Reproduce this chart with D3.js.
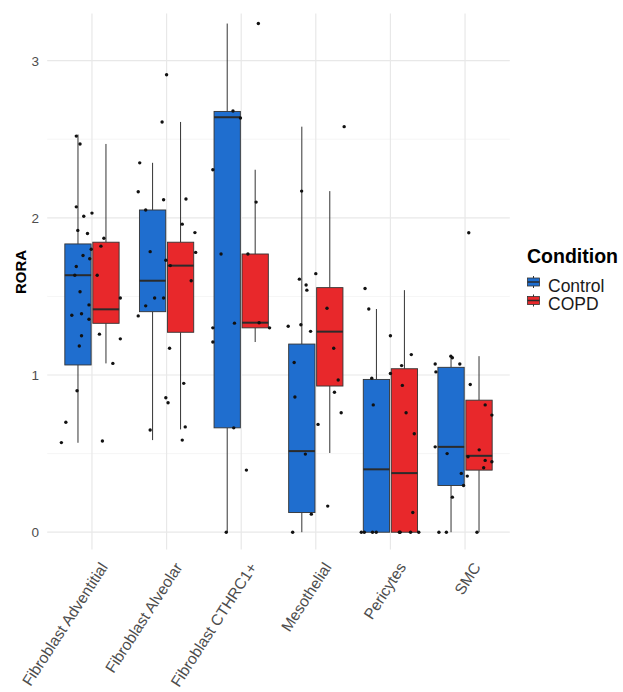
<!DOCTYPE html>
<html>
<head>
<meta charset="utf-8">
<script src="https://cdn.jsdelivr.net/npm/d3@7/dist/d3.min.js"></script>
<style>
  html, body { margin: 0; padding: 0; background: #ffffff; }
  svg { display: block; font-family: "Liberation Sans", Arial, Helvetica, sans-serif; }
</style>
</head>
<body>
<svg id="chart" width="623" height="692"></svg>
<script>
// Cell types on the x axis and the two conditions
const categories = ["Fibroblast Adventitial", "Fibroblast Alveolar", "Fibroblast CTHRC1+", "Mesothelial", "Pericytes", "SMC"];
const conditions = ["Control", "COPD"];
const conditionColors = ["#1f6ecf", "#e8282b"];

// Box summaries per cell type: [lower whisker, Q1, median, Q3, upper whisker]
const controlBoxes = [
  [0.569, 1.064, 1.635, 1.834, 2.53],
  [0.586, 1.403, 1.600, 2.050, 2.35],
  [0.000, 0.664, 2.640, 2.677, 3.236],
  [0.000, 0.125, 0.516, 1.197, 2.58],
  [0.000, 0.000, 0.400, 0.972, 1.42],
  [0.000, 0.297, 0.543, 1.049, 1.12]
];
const copdBoxes = [
  [1.074, 1.329, 1.418, 1.845, 2.47],
  [0.654, 1.272, 1.696, 1.845, 2.61],
  [1.210, 1.300, 1.333, 1.770, 2.306],
  [0.504, 0.930, 1.276, 1.556, 2.17],
  [0.000, 0.000, 0.376, 1.040, 1.54],
  [0.000, 0.395, 0.486, 0.840, 1.12]
];

// Individual cells: [horizontal jitter (fraction of category step), RORA]
const pointsAdventitial = [
  [-0.21, 2.52], [-0.16, 2.47], [-0.21, 2.07], [-0.11, 2.01], [0.00, 2.03], [-0.19, 1.92],
  [-0.06, 1.90], [0.16, 1.87], [0.12, 1.82], [-0.01, 1.80], [-0.12, 1.76], [-0.03, 1.74],
  [-0.21, 1.69], [-0.23, 1.635], [0.07, 1.635], [-0.16, 1.53], [-0.04, 1.446], [-0.27, 1.38],
  [-0.14, 1.39], [-0.04, 1.355], [0.38, 1.49], [0.10, 1.26], [0.38, 1.23], [-0.14, 1.25],
  [-0.17, 1.185], [0.28, 1.074], [-0.20, 0.90], [-0.35, 0.70], [-0.41, 0.57], [0.14, 0.58]
];
const pointsAlveolar = [
  [0.00, 2.91], [-0.06, 2.61], [-0.36, 2.35], [-0.38, 2.166], [-0.04, 2.115], [0.26, 2.12],
  [-0.28, 2.05], [0.21, 1.96], [0.38, 1.906], [-0.22, 1.785], [-0.01, 1.73], [0.39, 1.78],
  [0.05, 1.696], [0.33, 1.60], [-0.16, 1.49], [-0.04, 1.49], [-0.28, 1.44], [-0.38, 1.376],
  [0.04, 1.17], [0.23, 0.947], [-0.01, 0.855], [0.02, 0.824], [-0.22, 0.65], [0.25, 0.67],
  [0.21, 0.586]
];
const pointsCTHRC1 = [
  [0.23, 3.236], [-0.11, 2.68], [-0.01, 2.635], [-0.38, 2.306], [0.20, 2.10], [-0.27, 1.77],
  [0.09, 1.77], [-0.38, 1.30], [-0.38, 1.21], [-0.09, 1.33], [0.24, 1.333], [0.38, 1.30],
  [-0.10, 0.664], [0.07, 0.395], [-0.20, 0.0]
];
const pointsMesothelial = [
  [-0.19, 2.17], [0.38, 2.58], [-0.22, 1.61], [0.00, 1.645], [-0.13, 1.573], [-0.12, 1.54],
  [-0.37, 1.31], [-0.20, 1.32], [-0.07, 1.278], [0.15, 1.425], [0.24, 1.17], [0.30, 0.968],
  [-0.29, 1.08], [-0.28, 0.86], [0.03, 0.686], [-0.14, 0.497], [0.16, 0.166], [-0.06, 0.115],
  [-0.31, 0.0], [0.25, 0.89], [0.34, 0.76]
];
const pointsPericytes = [
  [-0.34, 1.55], [-0.29, 1.42], [0.00, 1.25], [0.28, 1.13], [0.15, 1.06], [0.00, 1.01],
  [-0.25, 0.98], [0.16, 0.934], [-0.23, 0.81], [0.21, 0.76], [0.32, 0.626], [0.30, 0.125],
  [-0.39, 0.0], [-0.35, 0.0], [-0.24, 0.0], [-0.19, 0.0], [0.12, 0.0], [0.13, 0.0],
  [0.27, 0.0], [0.38, 0.0]
];
const pointsSMC = [
  [-0.40, 1.07], [-0.39, 1.02], [-0.19, 1.12], [-0.17, 1.11], [-0.07, 1.07], [0.07, 0.94],
  [0.27, 0.81], [0.36, 0.745], [-0.40, 0.543], [-0.24, 0.50], [0.19, 0.524], [0.04, 0.48],
  [0.27, 0.457], [0.36, 0.448], [0.25, 0.41], [-0.05, 0.374], [0.03, 0.357], [-0.02, 0.297],
  [-0.17, 0.223], [-0.35, 0.0], [-0.25, 0.0], [0.16, 0.0], [0.05, 1.905]
];
const pointsByCategory = [pointsAdventitial, pointsAlveolar, pointsCTHRC1, pointsMesothelial, pointsPericytes, pointsSMC];

const yTicks = [0, 1, 2, 3];
const yMinorTicks = [0.5, 1.5, 2.5];

const svg = d3.select("#chart");

const panel = { left: 47.2, right: 509.8, top: 13.5, bottom: 549.5 };

const x = d3.scalePoint()
  .domain(categories)
  .range([panel.left, panel.right])
  .padding(0.6);

const step = x.step();
const dodge = d3.scaleBand()
  .domain(conditions)
  .range([-0.375 * step, 0.375 * step]);

const y = d3.scaleLinear()
  .domain([-0.11, 3.30])
  .range([panel.bottom, panel.top]);

// Grid lines (minor first, then major)
const grid = svg.append("g");
grid.selectAll("line.minor")
  .data(yMinorTicks)
  .join("line")
  .attr("x1", panel.left).attr("x2", panel.right)
  .attr("y1", d => y(d)).attr("y2", d => y(d))
  .attr("stroke", "#f0f0f0").attr("stroke-width", 0.7);
grid.selectAll("line.majory")
  .data(yTicks)
  .join("line")
  .attr("x1", panel.left).attr("x2", panel.right)
  .attr("y1", d => y(d)).attr("y2", d => y(d))
  .attr("stroke", "#e8e8e8").attr("stroke-width", 1.2);
grid.selectAll("line.majorx")
  .data(categories)
  .join("line")
  .attr("x1", d => x(d)).attr("x2", d => x(d))
  .attr("y1", panel.top).attr("y2", panel.bottom)
  .attr("stroke", "#e8e8e8").attr("stroke-width", 1.2);

// Boxplots
const boxWidth = dodge.bandwidth() * 0.94;
const boxes = svg.append("g");
[controlBoxes, copdBoxes].forEach((stats, ci) => {
  const cond = conditions[ci];
  stats.forEach((s, i) => {
    const cx = x(categories[i]) + dodge(cond) + dodge.bandwidth() / 2;
    const g = boxes.append("g");
    // whiskers
    g.append("line")
      .attr("x1", cx).attr("x2", cx)
      .attr("y1", y(s[3])).attr("y2", y(s[4]))
      .attr("stroke", "#333333").attr("stroke-width", 1);
    g.append("line")
      .attr("x1", cx).attr("x2", cx)
      .attr("y1", y(s[0])).attr("y2", y(s[1]))
      .attr("stroke", "#333333").attr("stroke-width", 1);
    // box
    g.append("rect")
      .attr("x", cx - boxWidth / 2)
      .attr("y", y(s[3]))
      .attr("width", boxWidth)
      .attr("height", Math.max(0, y(s[1]) - y(s[3])))
      .attr("fill", conditionColors[ci])
      .attr("stroke", "#333333").attr("stroke-width", 0.9);
    // median
    g.append("line")
      .attr("x1", cx - boxWidth / 2).attr("x2", cx + boxWidth / 2)
      .attr("y1", y(s[2])).attr("y2", y(s[2]))
      .attr("stroke", "#2b2b2b").attr("stroke-width", 2);
  });
});

// Jittered cells
const pts = svg.append("g");
pointsByCategory.forEach((list, i) => {
  pts.selectAll(null)
    .data(list)
    .join("circle")
    .attr("cx", d => x(categories[i]) + d[0] * step)
    .attr("cy", d => y(d[1]))
    .attr("r", 1.7)
    .attr("fill", "#111111");
});

// Y axis labels
svg.append("g").selectAll("text")
  .data(yTicks)
  .join("text")
  .attr("x", 39)
  .attr("y", d => y(d))
  .attr("dy", "0.36em")
  .attr("text-anchor", "end")
  .attr("font-size", 13.5)
  .attr("fill", "#4d4d4d")
  .text(d => d);

// X axis labels, rotated
svg.append("g").selectAll("text")
  .data(categories)
  .join("text")
  .attr("transform", d => `translate(${x(d) + 7},${561}) rotate(-57)`)
  .attr("dy", "0.72em")
  .attr("text-anchor", "end")
  .attr("font-size", 15.5)
  .attr("fill", "#4d4d4d")
  .text(d => d);

// Y axis title
svg.append("text")
  .attr("transform", `translate(${26},${272}) rotate(-90)`)
  .attr("text-anchor", "middle")
  .attr("font-size", 15)
  .attr("font-weight", "bold")
  .attr("fill", "#000000")
  .text("RORA");

// Legend
const legend = svg.append("g").attr("transform", "translate(527,0)");
legend.append("text")
  .attr("x", 0).attr("y", 263)
  .attr("font-size", 19.5)
  .attr("font-weight", "bold")
  .attr("fill", "#000000")
  .text("Condition");
conditions.forEach((c, i) => {
  const cy = 282 + i * 18.5;
  const kx = 6.5;
  legend.append("line")
    .attr("x1", kx).attr("x2", kx)
    .attr("y1", cy - 6).attr("y2", cy + 6)
    .attr("stroke", "#333333").attr("stroke-width", 1);
  legend.append("rect")
    .attr("x", kx - 6).attr("y", cy - 4)
    .attr("width", 12).attr("height", 8)
    .attr("fill", conditionColors[i])
    .attr("stroke", "#333333").attr("stroke-width", 0.8);
  legend.append("line")
    .attr("x1", kx - 6).attr("x2", kx + 6)
    .attr("y1", cy).attr("y2", cy)
    .attr("stroke", "#2b2b2b").attr("stroke-width", 1.5);
  legend.append("text")
    .attr("x", 21).attr("y", cy + 9.5)
    .attr("font-size", 17.5)
    .attr("fill", "#1a1a1a")
    .text(c);
});
</script>
</body>
</html>
